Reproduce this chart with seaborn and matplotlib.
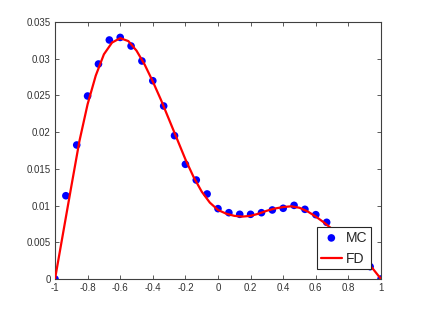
import numpy as np
import pandas as pd
import matplotlib
matplotlib.use("Agg")
import matplotlib.pyplot as plt
import seaborn as sns

# MC samples
mc_x = [-1.0, -0.9333, -0.8667, -0.8, -0.7333, -0.6667, -0.6, -0.5333, -0.4667, -0.4,
        -0.3333, -0.2667, -0.2, -0.1333, -0.0667, 0.0, 0.0667, 0.1333, 0.2, 0.2667,
        0.3333, 0.4, 0.4667, 0.5333, 0.6, 0.6667, 0.7333, 0.8, 0.8667, 0.9333, 1.0]
mc_y = [0.0, 0.01134, 0.01825, 0.02492, 0.02928, 0.03255, 0.0329, 0.03173, 0.02969, 0.0270,
        0.02356, 0.01952, 0.01562, 0.01348, 0.01158, 0.00958, 0.00903, 0.00881, 0.00881, 0.00903,
        0.0094, 0.00963, 0.01003, 0.00949, 0.00876, 0.00772, 0.0065, 0.0050, 0.0034, 0.00168, 0.0]

# FD solution
fd_x = [-1.0, -0.95, -0.9, -0.85, -0.8, -0.75, -0.7, -0.65, -0.6, -0.55,
        -0.5, -0.45, -0.4, -0.35, -0.3, -0.25, -0.2, -0.15, -0.1, -0.05,
        0.0, 0.05, 0.1, 0.15, 0.2, 0.25, 0.3, 0.35, 0.4, 0.45,
        0.5, 0.55, 0.6, 0.65, 0.7, 0.75, 0.8, 0.85, 0.9, 0.95, 1.0]
fd_y = [0.0, 0.0063, 0.0126, 0.0188, 0.0238, 0.0277, 0.0306, 0.0322, 0.0328, 0.0324,
        0.0311, 0.0292, 0.0269, 0.0244, 0.0217, 0.0190, 0.0163, 0.0139, 0.0119, 0.0104,
        0.0094, 0.0089, 0.0086, 0.0085, 0.0086, 0.0089, 0.0093, 0.0096, 0.0098, 0.0099,
        0.0097, 0.0092, 0.0085, 0.0077, 0.0068, 0.0057, 0.0046, 0.0035, 0.0025, 0.0014, 0.0]

xticks = [-1, -0.8, -0.6, -0.4, -0.2, 0, 0.2, 0.4, 0.6, 0.8, 1]
xticklabels = ["-1", "-0.8", "-0.6", "-0.4", "-0.2", "0", "0.2", "0.4", "0.6", "0.8", "1"]
yticks = [0, 0.005, 0.01, 0.015, 0.02, 0.025, 0.03, 0.035]
yticklabels = ["0", "0.005", "0.01", "0.015", "0.02", "0.025", "0.03", "0.035"]

sns.set_style("white")
plt.rcParams["font.family"] = ["Liberation Sans", "DejaVu Sans"]

mc = pd.DataFrame({"x": mc_x, "y": mc_y})
fd = pd.DataFrame({"x": fd_x, "y": fd_y})

fig = plt.figure(figsize=(4.21, 3.14), dpi=100)
ax = fig.add_axes([55 / 421, 35 / 314, 326 / 421, 257 / 314])

sns.scatterplot(data=mc, x="x", y="y", ax=ax, color="#0000FF", marker="o", s=30,
                edgecolor="none", linewidth=0, label="MC", zorder=2)
sns.lineplot(data=fd, x="x", y="y", ax=ax, color="#FF0000", linewidth=1.6,
             label="FD", zorder=3)

ax.set_xlim(-1, 1)
ax.set_ylim(0, 0.035)
ax.set_xticks(xticks)
ax.set_xticklabels(xticklabels)
ax.set_yticks(yticks)
ax.set_yticklabels(yticklabels)
ax.set_xlabel("")
ax.set_ylabel("")

axcol = "#404040"
for sp in ax.spines.values():
    sp.set_visible(True)
    sp.set_color(axcol)
    sp.set_linewidth(0.8)
ax.tick_params(direction="in", length=3, width=0.6, colors=axcol, labelsize=7,
               labelcolor="#333333", top=True, right=True, bottom=True, left=True, pad=3)

leg = ax.legend(loc="lower right", bbox_to_anchor=(0.969, 0.039), borderaxespad=0,
                fontsize=10, frameon=True, fancybox=False, framealpha=1,
                edgecolor="#262626", handlelength=1.5, handletextpad=0.3,
                borderpad=0.25, labelspacing=0.5)
leg.get_frame().set_linewidth(0.8)

fig.savefig("out.png", dpi=100)
